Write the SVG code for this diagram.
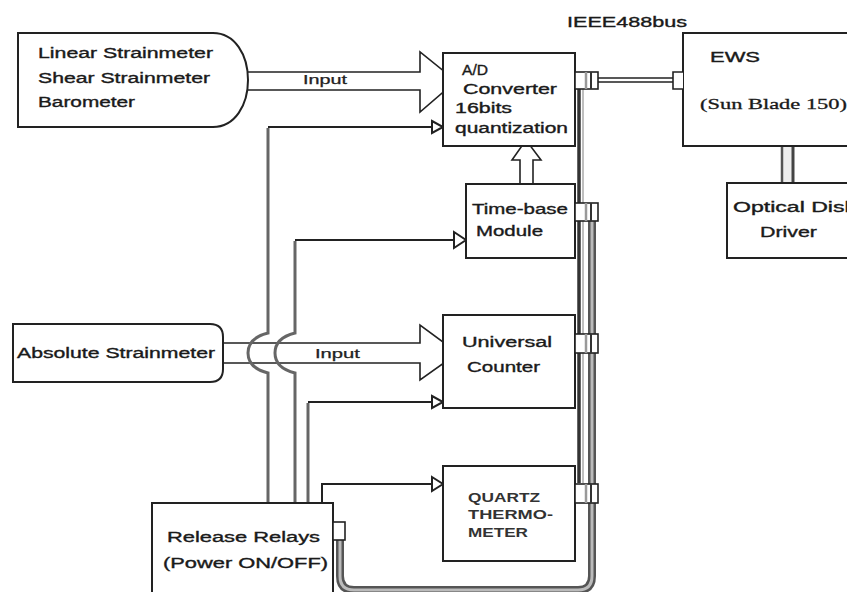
<svg xmlns="http://www.w3.org/2000/svg" width="847" height="592" viewBox="0 0 847 592">
<style>
  .box{fill:#fff;stroke:#222;stroke-width:2}
  .t{font-family:"Liberation Sans",Arial,sans-serif;font-size:14px;fill:#1a1a1a;stroke:#1a1a1a;stroke-width:0.35}
  .ts{font-family:"Liberation Sans",Arial,sans-serif;font-size:12px;fill:#222;stroke:#222;stroke-width:0.25}
  .tq{font-family:"Liberation Sans",Arial,sans-serif;font-size:12px;font-weight:bold;fill:#333}
  .serif{font-family:"Liberation Serif","Times New Roman",serif;font-size:15px;fill:#1a1a1a;stroke:#1a1a1a;stroke-width:0.3}
  .wide{fill:#fff;stroke:#222;stroke-width:1.6;stroke-linejoin:miter}
  .ctl{fill:none;stroke:#666;stroke-width:3}
  .ctlh{fill:none;stroke:#222;stroke-width:2}
  .tri{fill:#fff;stroke:#222;stroke-width:2}
  .conn{fill:#fff;stroke:#222;stroke-width:1.6}
</style>
<g id="connectors">
  <polygon class="wide" points="240,72 420,72 420,52 456,81 420,112 420,90 240,90"/>
  <polygon class="wide" points="215,343 420,343 420,325 458,353 420,380 420,363 215,363"/>
  <text class="ts" x="303" y="84" textLength="44" lengthAdjust="spacingAndGlyphs">Input</text>
  <text class="ts" x="315" y="358" textLength="45" lengthAdjust="spacingAndGlyphs">Input</text>
  <polygon class="wide" points="520,186 520,160 512,160 526,140 541,160 533,160 533,186"/>
  <path class="ctl" d="M268,504 V373 C252,369 248,361 248,353 C248,345 252,337 268,333 V128"/>
  <path class="ctlh" d="M268,127 H432"/>
  <polygon class="tri" points="432,121 443,127 432,133"/>
  <path class="ctl" d="M295,504 V373 C279,369 275,361 275,353 C275,345 279,337 295,333 V241"/>
  <path class="ctlh" d="M295,240 H454"/>
  <polygon class="tri" points="454,232 466,240 454,248"/>
  <path class="ctl" d="M308,504 V403"/>
  <path class="ctlh" d="M308,402 H432"/>
  <polygon class="tri" points="432,396 443,402 432,408"/>
  <path class="ctlh" d="M322,504 V484 H432"/>
  <polygon class="tri" points="432,477 443,484 432,491"/>
  <path d="M579,89 V483" fill="none" stroke="#333" stroke-width="3.5"/>
  <path d="M583,89 V483" fill="none" stroke="#aaa" stroke-width="1.5"/>
  <path d="M592,221 V576 Q592,590 578,590 H354 Q340,590 340,576 V540" fill="none" stroke="#555" stroke-width="8"/>
  <path d="M592,221 V576 Q592,590 578,590 H354 Q340,590 340,576 V540" fill="none" stroke="#bbb" stroke-width="3"/>
  <path d="M598,78 H673 M598,82 H673" fill="none" stroke="#222" stroke-width="1.6"/>
  <rect x="782" y="146" width="11" height="37" fill="#eee"/>
  <path d="M782,146 V183" stroke="#555" stroke-width="2.5"/>
  <path d="M793,146 V183" stroke="#444" stroke-width="3"/>
  <text class="t" x="567" y="27" textLength="120" lengthAdjust="spacingAndGlyphs">IEEE488bus</text>
</g>
<g id="sensors">
  <path class="box" d="M18,33 H213 C235,33 248,55 248,80 C248,105 235,127 213,127 H18 Z"/>
  <text class="t" x="38" y="58" textLength="175" lengthAdjust="spacingAndGlyphs">Linear Strainmeter</text>
  <text class="t" x="38" y="83" textLength="172" lengthAdjust="spacingAndGlyphs">Shear Strainmeter</text>
  <text class="t" x="38" y="107" textLength="97" lengthAdjust="spacingAndGlyphs">Barometer</text>
</g>
<g id="absolute">
  <path class="box" d="M13,324 H210 Q223,324 223,337 V369 Q223,382 210,382 H13 Z"/>
  <text class="t" x="17" y="358" textLength="198" lengthAdjust="spacingAndGlyphs">Absolute Strainmeter</text>
</g>
<g id="ad">
  <rect class="box" x="443" y="53" width="132" height="93"/>
  <text class="t" x="462" y="75" textLength="26" lengthAdjust="spacingAndGlyphs">A/D</text>
  <text class="t" x="463" y="94" textLength="94" lengthAdjust="spacingAndGlyphs">Converter</text>
  <text class="t" x="455" y="113" textLength="57" lengthAdjust="spacingAndGlyphs">16bits</text>
  <text class="t" x="455" y="133" textLength="113" lengthAdjust="spacingAndGlyphs">quantization</text>
  <rect class="conn" x="575" y="72" width="23" height="17"/>
  <path d="M586,72 V89" stroke="#999" stroke-width="2.5"/>
  <path d="M591,72 V89" stroke="#333" stroke-width="2"/>
</g>
<g id="timebase">
  <rect class="box" x="466" y="184" width="109" height="74"/>
  <text class="t" x="472" y="214" textLength="96" lengthAdjust="spacingAndGlyphs">Time-base</text>
  <text class="t" x="476" y="236" textLength="67" lengthAdjust="spacingAndGlyphs">Module</text>
  <rect class="conn" x="575" y="203" width="23" height="18"/>
  <path d="M586,203 V221" stroke="#999" stroke-width="2.5"/>
  <path d="M591,203 V221" stroke="#333" stroke-width="2"/>
</g>
<g id="counter">
  <rect class="box" x="443" y="315" width="132" height="93"/>
  <text class="t" x="462" y="347" textLength="90" lengthAdjust="spacingAndGlyphs">Universal</text>
  <text class="t" x="467" y="372" textLength="73" lengthAdjust="spacingAndGlyphs">Counter</text>
  <rect class="conn" x="575" y="334" width="23" height="19"/>
  <path d="M586,334 V353" stroke="#999" stroke-width="2.5"/>
  <path d="M591,334 V353" stroke="#333" stroke-width="2"/>
</g>
<g id="quartz">
  <rect class="box" x="443" y="466" width="132" height="95"/>
  <text class="tq" x="468" y="502" textLength="72" lengthAdjust="spacingAndGlyphs">QUARTZ</text>
  <text class="tq" x="468" y="519" textLength="85" lengthAdjust="spacingAndGlyphs">THERMO-</text>
  <text class="tq" x="468" y="537" textLength="60" lengthAdjust="spacingAndGlyphs">METER</text>
  <rect class="conn" x="575" y="484" width="23" height="19"/>
  <path d="M586,484 V503" stroke="#999" stroke-width="2.5"/>
  <path d="M591,484 V503" stroke="#333" stroke-width="2"/>
</g>
<g id="relays">
  <rect class="box" x="152" y="503" width="181" height="100"/>
  <text class="t" x="167" y="542" textLength="153" lengthAdjust="spacingAndGlyphs">Release Relays</text>
  <text class="t" x="163" y="568" textLength="165" lengthAdjust="spacingAndGlyphs">(Power ON/OFF)</text>
  <rect class="conn" x="333" y="522" width="12" height="18"/>
</g>
<g id="ews">
  <rect class="box" x="683" y="33" width="200" height="113"/>
  <path d="M683,72 H673 V89 H683" fill="#fff" stroke="#222" stroke-width="1.6"/>
  <text class="t" x="710" y="62" textLength="50" lengthAdjust="spacingAndGlyphs">EWS</text>
  <text class="serif" x="700" y="109" textLength="147" lengthAdjust="spacingAndGlyphs">(Sun Blade 150)</text>
</g>
<g id="optical">
  <rect class="box" x="727" y="183" width="150" height="75"/>
  <text class="t" x="733" y="212" textLength="123" lengthAdjust="spacingAndGlyphs">Optical Disk</text>
  <text class="t" x="760" y="237" textLength="57" lengthAdjust="spacingAndGlyphs">Driver</text>
</g>
</svg>
